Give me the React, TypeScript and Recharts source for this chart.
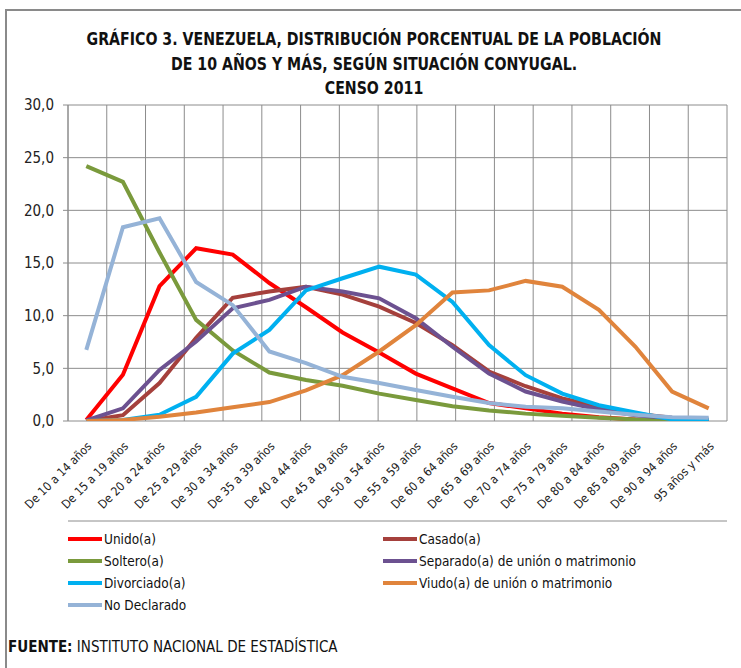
import React from 'react';
import { LineChart, Line, XAxis, YAxis, CartesianGrid, ReferenceLine } from 'recharts';

const categories = [
  'De 10 a 14 años', 'De 15 a 19 años', 'De 20 a 24 años', 'De 25 a 29 años',
  'De 30 a 34 años', 'De 35 a 39 años', 'De 40 a 44 años', 'De 45 a 49 años',
  'De 50 a 54 años', 'De 55 a 59 años', 'De 60 a 64 años', 'De 65 a 69 años',
  'De 70 a 74 años', 'De 75 a 79 años', 'De 80 a 84 años', 'De 85 a 89 años',
  'De 90 a 94 años', '95 años y más',
];

const unido = [0.1, 4.4, 12.8, 16.4, 15.8, 13.1, 10.8, 8.4, 6.5, 4.5, 3.1, 1.7, 1.2, 0.7, 0.35, 0.15, 0.05, 0.02];
const casado = [0.0, 0.55, 3.6, 7.9, 11.7, 12.3, 12.75, 12.0, 10.85, 9.3, 7.2, 4.7, 3.3, 2.15, 1.35, 0.7, 0.3, 0.15];
const soltero = [24.2, 22.7, 16.0, 9.6, 6.7, 4.6, 3.9, 3.35, 2.6, 2.0, 1.4, 1.0, 0.7, 0.5, 0.3, 0.15, 0.05, 0.02];
const separado = [0.05, 1.2, 4.85, 7.55, 10.7, 11.5, 12.75, 12.3, 11.65, 9.75, 7.05, 4.5, 2.8, 1.85, 1.1, 0.55, 0.25, 0.1];
const divorciado = [0.0, 0.1, 0.6, 2.3, 6.4, 8.65, 12.4, 13.55, 14.65, 13.9, 11.3, 7.2, 4.35, 2.6, 1.5, 0.8, 0.15, 0.1];
const viudo = [0.0, 0.1, 0.4, 0.8, 1.3, 1.8, 2.9, 4.35, 6.6, 9.1, 12.2, 12.4, 13.3, 12.75, 10.55, 7.05, 2.8, 1.2];
const noDeclarado = [6.75, 18.4, 19.25, 13.2, 11.0, 6.6, 5.5, 4.2, 3.6, 2.95, 2.3, 1.7, 1.35, 1.2, 0.9, 0.6, 0.35, 0.3];

const yTicks = [0, 5, 10, 15, 20, 25, 30];
const boundaryTicks = Array.from({ length: categories.length + 1 }, (_, i) => i);

const titleLines = [
  'GRÁFICO 3. VENEZUELA, DISTRIBUCIÓN PORCENTUAL DE LA POBLACIÓN',
  'DE 10 AÑOS Y MÁS, SEGÚN SITUACIÓN CONYUGAL.',
  'CENSO 2011',
];

const series = [
  { key: 'unido', name: 'Unido(a)', color: '#FF0000', values: unido },
  { key: 'casado', name: 'Casado(a)', color: '#A5403C', values: casado },
  { key: 'soltero', name: 'Soltero(a)', color: '#7A9A3C', values: soltero },
  { key: 'separado', name: 'Separado(a) de unión o matrimonio', color: '#6C5190', values: separado },
  { key: 'divorciado', name: 'Divorciado(a)', color: '#00B0F0', values: divorciado },
  { key: 'viudo', name: 'Viudo(a) de unión o matrimonio', color: '#E0843C', values: viudo },
  { key: 'noDeclarado', name: 'No Declarado', color: '#95B3D7', values: noDeclarado },
];

const data = categories.map((cat, i) => {
  const row: Record<string, string | number> = { cat };
  series.forEach((s) => {
    row[s.key] = s.values[i];
  });
  return row;
});

const FONT = "'DejaVu Sans Condensed', 'Liberation Sans Narrow', 'Roboto', sans-serif";
const GRID = '#8c8c8c';

export default function App() {
  return (
    <div style={{ position: 'absolute', left: 0, top: 0, width: 741, height: 668, background: '#fff', overflow: 'hidden', fontFamily: FONT }}>
      <div style={{ position: 'absolute', left: 5, top: 9, width: 800, height: 800, border: '2px solid #8a8a8a', boxSizing: 'border-box' }} />
      <div style={{ position: 'absolute', left: 0, top: 0 }}>
        <LineChart width={741} height={668} data={data} margin={{ top: 105, right: 14, bottom: 141, left: 8 }}>
          <CartesianGrid xAxisId="grid" stroke={GRID} strokeWidth={1} vertical={false} />
          <XAxis
            xAxisId="grid"
            type="number"
            domain={[0, categories.length]}
            ticks={boundaryTicks}
            tick={false}
            tickSize={5}
            height={6}
            axisLine={{ stroke: GRID }}
            tickLine={{ stroke: GRID }}
            allowDataOverflow
          />
          <XAxis
            xAxisId="cat"
            dataKey="cat"
            scale="band"
            interval={0}
            axisLine={false}
            tickLine={false}
            height={100}
            angle={-45}
            textAnchor="end"
            tickSize={6}
            tickMargin={14}
            tick={{ fill: '#222', fontSize: 12, fontFamily: FONT }}
          />
          <YAxis
            domain={[0, 30]}
            ticks={yTicks}
            width={60}
            tickSize={5}
            tickMargin={9}
            axisLine={{ stroke: GRID }}
            tickLine={{ stroke: GRID }}
            tickFormatter={(v: number) => v.toFixed(1).replace('.', ',')}
            tick={{ fill: '#222', fontSize: 15, fontFamily: FONT }}
            allowDataOverflow
          />
          {boundaryTicks.map((t) => (
            <ReferenceLine key={`v${t}`} xAxisId="grid" x={t} stroke={GRID} strokeWidth={1} />
          ))}
          {series.map((s) => (
            <Line
              key={s.key}
              xAxisId="cat"
              dataKey={s.key}
              name={s.name}
              stroke={s.color}
              strokeWidth={4}
              dot={false}
              activeDot={false}
              isAnimationActive={false}
            />
          ))}
        </LineChart>
      </div>
      <svg width={741} height={668} style={{ position: 'absolute', left: 0, top: 0, pointerEvents: 'none' }}>
        <g fontFamily={FONT} fontWeight="bold" fill="#111" textAnchor="middle">
          {titleLines.map((t, i) => (
            <g key={i} transform={`translate(374, ${45 + i * 24.5}) scale(0.875, 1)`}>
              <text x={0} y={0} fontSize={18}>{t}</text>
            </g>
          ))}
        </g>
        <g fontFamily={FONT} fontSize={13.5} fill="#111">
          {series.map((s, i) => {
            const col = i % 2;
            const row = Math.floor(i / 2);
            const x0 = col === 0 ? 68 : 383;
            const y = 539 + row * 22;
            return (
              <g key={s.key}>
                <line x1={x0} x2={x0 + 34} y1={y} y2={y} stroke={s.color} strokeWidth={4} />
                <text x={x0 + 36} y={y + 5}>{s.name}</text>
              </g>
            );
          })}
          <text x={8} y={652} fontSize={15}>
            <tspan fontWeight="bold">FUENTE:</tspan>
            <tspan> INSTITUTO NACIONAL DE ESTADÍSTICA</tspan>
          </text>
        </g>
      </svg>
    </div>
  );
}
